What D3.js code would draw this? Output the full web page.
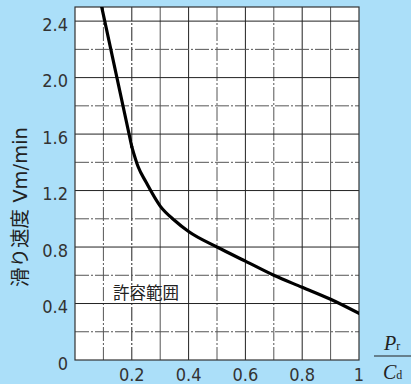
<!DOCTYPE html>
<html><head><meta charset="utf-8">
<script src="https://cdn.jsdelivr.net/npm/d3@7"></script>
<style>
html,body{margin:0;padding:0;background:#abdff9;}
svg{display:block;}
</style></head>
<body>
<svg id="c" width="411" height="384"></svg>
<script>
// steep straight part (upper-left) and the curved part
const steepX = [0.094, 0.2];
const steepY = [2.5, 1.51];
const curveX = [0.2, 0.222, 0.25, 0.3, 0.35, 0.4, 0.5, 0.6, 0.7, 0.8, 0.9, 1.0];
const curveY = [1.51, 1.37, 1.26, 1.09, 0.99, 0.91, 0.80, 0.70, 0.60, 0.515, 0.43, 0.33];
const xTickLabels = ["0.2", "0.4", "0.6", "0.8", "1"];
const xTickValues = [0.2, 0.4, 0.6, 0.8, 1.0];
const yTickLabels = ["0", "0.4", "0.8", "1.2", "1.6", "2.0", "2.4"];
const yTickValues = [0, 0.4, 0.8, 1.2, 1.6, 2.0, 2.4];
const xGrid = d3.range(1, 10).map(i => i / 10);
const yGrid = d3.range(1, 13).map(i => i / 5);
const yTitleJa = "滑り速度";
const yTitleUnit = "Vm/min";
const regionLabel = "許容範囲";

const svg = d3.select("#c");
const L = 75, R = 359, T = 7, B = 360;
const x = d3.scaleLinear().domain([0, 1]).range([L, R]);
const y = d3.scaleLinear().domain([0, 2.5]).range([B, T]);

svg.append("rect").attr("x", L).attr("y", T).attr("width", R - L).attr("height", B - T).attr("fill", "#fff");

const g = svg.append("g");
g.selectAll(".vg").data(xGrid).join("line")
  .attr("x1", d => x(d)).attr("x2", d => x(d)).attr("y1", T).attr("y2", B)
  .attr("stroke", (d, i) => i % 2 ? "#222" : "#555").attr("stroke-width", 1)
  .attr("stroke-dasharray", d => [0.1, 0.2, 0.5, 0.7].includes(d) ? "14,2,2,2" : null);
g.selectAll(".hg").data(yGrid).join("line")
  .attr("x1", L).attr("x2", R).attr("y1", d => y(d)).attr("y2", d => y(d))
  .attr("stroke", (d, i) => i % 2 ? "#222" : "#555").attr("stroke-width", 1)
  .attr("stroke-dasharray", (d, i) => i % 2 ? null : "14,2,2,2");

svg.append("rect").attr("x", L).attr("y", T).attr("width", R - L).attr("height", B - T)
  .attr("fill", "none").attr("stroke", "#333").attr("stroke-width", 1.2);

svg.append("clipPath").attr("id", "clip").append("rect").attr("x", L).attr("y", T).attr("width", R - L).attr("height", B - T);
const steep = steepX.map((v, i) => [v, steepY[i]]);
const curved = curveX.map((v, i) => [v, curveY[i]]);
svg.append("path").datum(steep).attr("clip-path", "url(#clip)")
  .attr("d", d3.line().x(d => x(d[0])).y(d => y(d[1])))
  .attr("fill", "none").attr("stroke", "#000").attr("stroke-width", 3.2).attr("stroke-linecap", "round");
svg.append("path").datum(curved).attr("clip-path", "url(#clip)")
  .attr("d", d3.line().x(d => x(d[0])).y(d => y(d[1])).curve(d3.curveMonotoneX))
  .attr("fill", "none").attr("stroke", "#000").attr("stroke-width", 3.2).attr("stroke-linecap", "round");

const numFont = "'Liberation Sans Narrow','DejaVu Sans Condensed',sans-serif";
svg.selectAll(".yl").data(yTickValues).join("text")
  .attr("x", 68).attr("y", d => y(d) + 9.5).attr("text-anchor", "end")
  .attr("font-family", numFont).attr("font-size", 18).attr("fill", "#333")
  .text((d, i) => yTickLabels[i]);
svg.selectAll(".xl").data(xTickValues).join("text")
  .attr("x", d => x(d)).attr("y", 381).attr("text-anchor", "middle")
  .attr("font-family", numFont).attr("font-size", 18).attr("fill", "#333")
  .text((d, i) => xTickLabels[i]);

const title = svg.append("text").attr("transform", "translate(27,207) rotate(-90)")
  .attr("text-anchor", "middle").attr("font-size", 19.5).attr("fill", "#222");
title.append("tspan").attr("font-family", "'Noto Sans CJK JP',sans-serif").text(yTitleJa);
title.append("tspan").attr("font-family", "'DejaVu Sans',sans-serif").text(" " + yTitleUnit);

svg.append("text").attr("x", 113).attr("y", 299)
  .attr("font-family", "'Noto Sans CJK JP',sans-serif").attr("font-size", 16.5).attr("fill", "#222")
  .text(regionLabel);

const serif = "'Liberation Serif','DejaVu Serif',serif";
const num = svg.append("text").attr("x", 384).attr("y", 350).attr("font-family", serif).attr("fill", "#222");
num.append("tspan").attr("font-style", "italic").attr("font-size", 20).text("P");
num.append("tspan").attr("font-size", 12).text("r");
svg.append("line").attr("x1", 374).attr("x2", 411).attr("y1", 356).attr("y2", 356).attr("stroke", "#222").attr("stroke-width", 1.2);
const den = svg.append("text").attr("x", 383).attr("y", 379).attr("font-family", serif).attr("fill", "#222");
den.append("tspan").attr("font-style", "italic").attr("font-size", 20).text("C");
den.append("tspan").attr("font-size", 12).text("d");
</script>
</body></html>
